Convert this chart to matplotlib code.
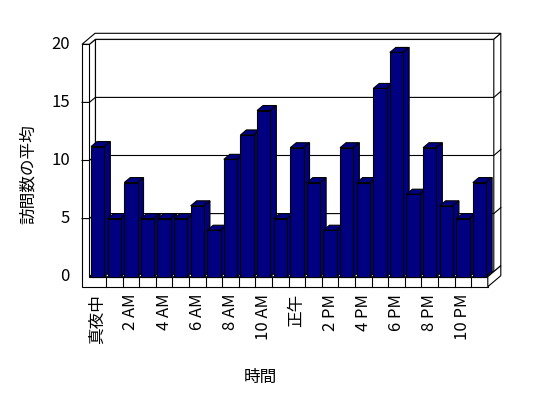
import matplotlib
matplotlib.use("Agg")
import matplotlib.pyplot as plt
from matplotlib.patches import Polygon, Rectangle

plt.rcParams['font.family'] = ['Noto Sans CJK JP', 'DejaVu Sans']

# ---- data ----
hours = list(range(24))
visits = [11.2, 5.0, 8.1, 5.0, 5.0, 5.0, 6.1, 4.0, 10.1, 12.2, 14.3, 5.0,
          11.1, 8.1, 4.0, 11.1, 8.1, 16.2, 19.3, 7.1, 11.1, 6.1, 5.0, 8.1]
tick_labels = ['真夜中', '2 AM', '4 AM', '6 AM', '8 AM', '10 AM',
               '正午', '2 PM', '4 PM', '6 PM', '8 PM', '10 PM']
y_ticks = [0, 5, 10, 15, 20]
x_title = '時間'
y_title = '訪問数の平均'

# ---- layout (pixels) ----
W, H = 548, 398
C0, CW = 89.4, 16.6      # x pixel of category 0 left edge, pixels per category
V0, VH = 276.7, 11.62    # y pixel of value 0, pixels per unit

def cx(px):
    return (px - C0) / CW

def vy(py):
    return (V0 - py) / VH

N = len(hours)
VMAX = 20
DX, DY = 6 / CW, 5 / VH      # interior depth
WX, WY = 7 / CW, 6 / VH      # back wall thickness
LT = 7.4 / CW                # left wall thickness
FT = 10 / VH                 # floor thickness
NAVY = '#000080'
LW = 0.8

fig = plt.figure(figsize=(W / 100, H / 100), dpi=100)
ax = fig.add_axes([0, 0, 1, 1])
ax.set_xlim(cx(0), cx(W))
ax.set_ylim(vy(H), vy(0))
ax.axis('off')

def poly(pts, z, fc='white'):
    ax.add_patch(Polygon(pts, closed=True, facecolor=fc, edgecolor='black',
                         linewidth=LW, zorder=z, joinstyle='miter'))

# back wall front face
poly([(DX, DY), (N + DX, DY), (N + DX, VMAX + DY), (DX, VMAX + DY)], 1)
# left wall inner face
poly([(0, 0), (0, VMAX), (DX, VMAX + DY), (DX, DY)], 1)
# floor top face
poly([(0, 0), (N, 0), (N + DX, DY), (DX, DY)], 1)
# top of walls (L-shape)
poly([(-LT, VMAX), (-LT + DX + WX, VMAX + DY + WY), (N + DX + WX, VMAX + DY + WY),
      (N + DX, VMAX + DY), (DX, VMAX + DY), (0, VMAX)], 1)
# right face of back wall
poly([(N + DX, VMAX + DY), (N + DX + WX, VMAX + DY + WY),
      (N + DX + WX, DY + WY), (N + DX, DY)], 1)
# left wall front face + floor front face (L-shape)
poly([(-LT, VMAX), (0, VMAX), (0, 0), (N, 0), (N, -FT), (-LT, -FT)], 1)
# floor right face
poly([(N, 0), (N, -FT), (N + DX + WX, -FT + DY + WY), (N + DX + WX, DY + WY)], 1)
# category separators on floor front
for c in range(1, N):
    ax.plot([c, c], [-FT, 0], color='black', lw=LW, zorder=2)
# gridlines
for v in y_ticks[1:-1]:
    ax.plot([-LT, 0, DX, N + DX, N + DX + WX],
            [v, v, v + DY, v + DY, v + DY + WY], color='black', lw=LW, zorder=2)

# bars
bw = 0.8
bars = ax.bar([h + 0.5 for h in hours], visits, width=bw, color=NAVY,
              edgecolor='black', linewidth=LW)
for i, (h, val) in enumerate(zip(hours, visits)):
    z = 10 + i * 0.01
    bars.patches[i].set_zorder(z + 0.005)
    x0 = h + 0.5 - bw / 2
    x1 = h + 0.5 + bw / 2
    poly([(x0, val), (x1, val), (x1 + DX, val + DY), (x0 + DX, val + DY)], z, NAVY)
    poly([(x1, 0), (x1, val), (x1 + DX, val + DY), (x1 + DX, DY)], z, NAVY)

FS = 12
# y tick labels
for v in y_ticks:
    ax.text(cx(70), v, str(v), ha='right', va='center', fontsize=FS)
# x tick labels
for k, lab in enumerate(tick_labels):
    ax.text(2 * k + 0.5, vy(294), lab, rotation=90, ha='center', va='top',
            fontsize=FS)
# axis titles
ax.text(cx(260), vy(377), x_title, ha='center', va='center', fontsize=FS)
ax.text(cx(28), vy(174), y_title, rotation=90, ha='center', va='center',
        fontsize=FS)

fig.savefig('out.png', dpi=100)
